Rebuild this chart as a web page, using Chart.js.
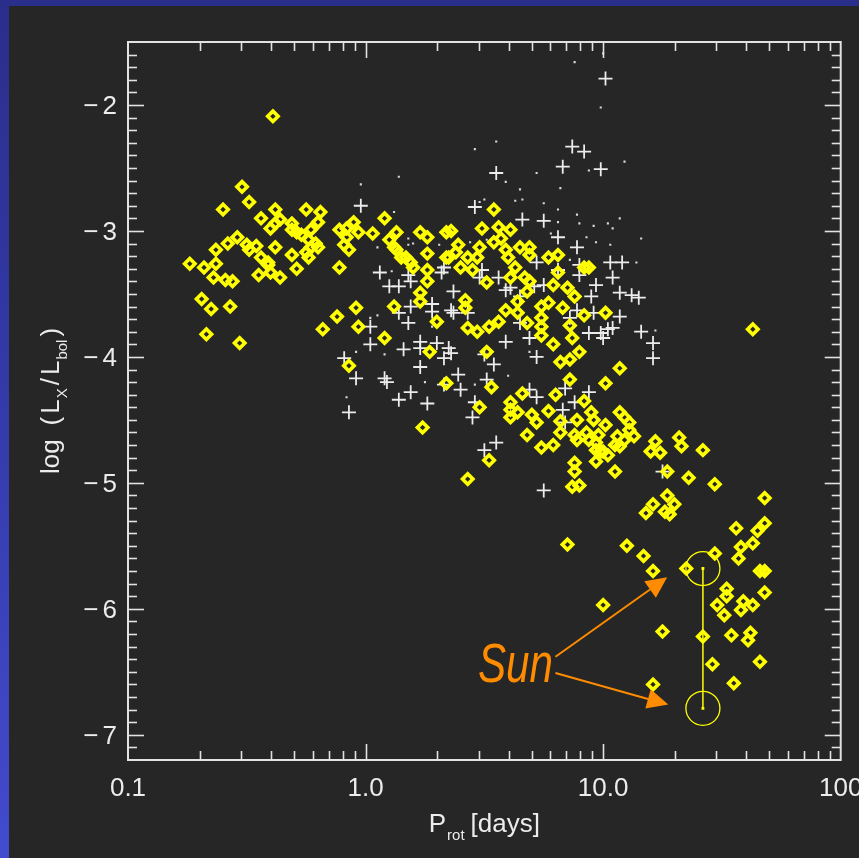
<!DOCTYPE html>
<html><head><meta charset="utf-8">
<script src="https://cdn.jsdelivr.net/npm/chart.js@4.4.0/dist/chart.umd.min.js"></script>
<style>
html,body{margin:0;padding:0;width:859px;height:858px;overflow:hidden;}
body{background:linear-gradient(180deg,#2a2e8b 0%,#333aa8 45%,#434bcf 100%);}
#wrap{position:absolute;left:9px;top:6px;width:850px;height:852px;background:#262626;}
canvas{display:block;}
</style></head>
<body><div id="wrap"><canvas id="c" width="850" height="852"></canvas></div>
<script>
// ---- data (x values are log10 of rotation period in days, y values are log(Lx/Lbol)) ----
const yellowLogP = [
-0.39,-0.52,-0.49,-0.60,-0.38,-0.25,-0.19,-0.44,-0.36,-0.38,-0.40,-0.31,-0.31,-0.29,-0.27,-0.23,-0.20,-0.24,-0.21,-0.23,
-0.20,-0.25,-0.24,-0.31,-0.29,-0.11,-0.08,-0.05,-0.03,-0.08,-0.09,-0.07,0.03,0.08,0.13,0.10,0.12,0.13,0.15,0.17,
0.19,0.20,0.23,0.26,0.26,0.26,0.26,0.23,0.23,0.12,0.30,0.27,0.08,-0.03,-0.04,-0.12,-0.18,-0.07,-0.11,-0.54,
-0.58,-0.63,-0.50,-0.49,-0.46,-0.38,-0.44,-0.41,-0.41,-0.45,-0.40,-0.36,-0.74,-0.68,-0.63,-0.64,-0.59,-0.56,-0.69,-0.65,
-0.57,-0.67,-0.53,0.34,0.34,0.34,0.24,0.43,0.52,0.53,0.51,0.48,0.36,0.39,0.35,0.38,0.40,0.43,0.45,0.47,
0.48,0.49,0.54,0.56,0.61,0.54,0.57,0.59,0.60,0.65,0.69,0.69,0.77,0.81,0.51,0.42,0.42,0.43,0.47,0.52,
0.56,0.59,0.64,0.61,0.63,0.67,0.69,0.68,0.64,0.68,0.74,0.77,0.74,0.74,0.74,0.79,0.81,0.83,0.79,0.86,
0.85,0.88,0.87,0.90,0.82,0.86,0.86,0.92,0.92,0.94,0.92,1.01,1.07,1.01,0.80,0.77,0.82,0.82,0.79,0.74,
0.68,0.61,0.61,0.61,0.64,0.66,0.70,0.72,0.89,0.88,0.89,0.93,0.94,0.97,0.97,1.00,0.97,1.02,0.95,0.96,
0.88,0.88,0.87,0.90,1.05,1.01,1.06,1.05,1.09,1.07,1.09,1.11,1.11,1.13,1.22,1.20,1.24,1.27,1.63,0.98,
1.07,0.99,1.32,1.33,1.42,1.36,1.47,1.27,1.30,1.26,1.28,1.21,1.18,1.68,1.56,1.65,1.68,0.85,1.10,1.17,
1.21,1.35,1.47,1.58,1.63,1.57,1.66,1.68,1.52,1.52,1.68,1.48,1.51,1.59,1.63,1.58,1.00,1.25,1.54,1.62,
1.61,1.46,1.66,1.55,1.21
];
const yellowLogLx = [
-2.09,-2.65,-2.77,-2.83,-2.83,-2.83,-2.85,-2.90,-2.91,-2.94,-2.98,-2.94,-2.99,-3.01,-3.03,-2.99,-2.93,-3.07,-3.10,-3.13,
-3.13,-3.17,-3.21,-3.19,-3.30,-2.99,-2.98,-2.93,-3.01,-3.05,-3.11,-3.15,-3.02,-2.90,-3.01,-3.07,-3.13,-3.15,-3.21,-3.21,
-3.25,-3.29,-3.01,-3.05,-3.18,-3.31,-3.40,-3.49,-3.56,-3.60,-3.72,-3.96,-3.85,-3.76,-3.61,-3.68,-3.78,-4.07,-3.29,-3.05,
-3.10,-3.15,-3.11,-3.15,-3.12,-3.13,-3.21,-3.25,-3.27,-3.35,-3.33,-3.37,-3.26,-3.29,-3.26,-3.37,-3.39,-3.40,-3.54,-3.62,
-3.60,-3.82,-3.89,-3.01,-3.21,-4.21,-4.56,-4.97,-4.82,-4.24,-3.96,-4.40,-3.00,-3.11,-3.21,-3.17,-3.29,-3.21,-3.31,-3.21,
-3.13,-2.98,-2.83,-2.97,-2.99,-3.09,-3.06,-3.15,-3.21,-3.13,-3.13,-3.19,-3.21,-3.19,-3.41,-3.55,-3.61,-3.77,-3.80,-3.76,
-3.72,-3.63,-3.65,-3.37,-3.29,-3.37,-3.40,-3.48,-3.56,-3.73,-3.60,-3.57,-3.69,-3.76,-3.83,-3.43,-3.33,-3.61,-3.90,-3.75,
-3.45,-3.52,-3.85,-3.96,-4.04,-4.02,-4.18,-4.35,-3.29,-3.29,-3.67,-3.65,-4.09,-4.21,-4.30,-4.43,-4.51,-4.60,-4.70,-4.72,
-4.62,-4.36,-4.42,-4.48,-4.44,-4.29,-4.46,-4.52,-4.50,-4.62,-4.66,-4.60,-4.66,-4.68,-4.74,-4.75,-4.83,-4.78,-4.44,-4.50,
-4.84,-4.91,-5.03,-5.02,-4.91,-4.54,-4.63,-4.70,-4.66,-4.44,-4.48,-4.52,-4.58,-4.63,-4.67,-4.75,-4.76,-4.91,-3.78,-4.62,
-4.71,-4.75,-4.64,-4.71,-4.74,-4.96,-5.01,-5.10,-5.17,-5.23,-5.25,-5.17,-5.24,-5.12,-5.36,-5.38,-5.32,-5.49,-5.50,-5.58,
-5.70,-5.68,-5.56,-5.51,-5.48,-5.60,-5.70,-5.70,-5.84,-5.90,-5.87,-5.97,-6.05,-5.94,-5.97,-6.01,-5.97,-6.18,-6.21,-6.19,
-6.25,-6.44,-6.42,-6.59,-6.60
];
const crossLogP = [
1.01,0.87,0.92,0.83,0.99,0.55,0.46,0.66,0.75,0.81,0.89,1.03,1.08,1.04,0.97,0.95,1.07,1.12,1.15,0.90,
0.89,0.86,0.96,0.94,0.99,1.00,1.04,1.07,1.16,1.21,1.21,0.81,0.72,0.75,0.71,0.65,0.61,0.59,0.56,0.48,
0.49,0.33,0.32,0.37,0.28,0.28,0.36,0.37,0.43,0.19,0.14,0.18,0.10,0.14,0.19,0.18,0.06,0.59,0.69,0.65,
0.23,0.23,0.30,0.35,0.36,0.16,0.23,0.33,0.54,0.50,0.39,0.40,0.33,0.51,0.08,0.09,0.19,0.14,0.26,0.46,
0.45,0.55,0.50,0.72,0.69,0.72,0.84,0.94,0.83,0.88,0.84,0.75,1.25,1.02,-0.02,0.02,0.02,-0.09,-0.04,-0.07,
0.90
];
const crossLogLx = [
-1.79,-2.33,-2.37,-2.49,-2.51,-2.54,-2.81,-2.91,-2.92,-3.05,-3.13,-3.25,-3.25,-3.37,-3.43,-3.52,-3.49,-3.51,-3.53,-3.35,
-3.63,-3.69,-3.65,-3.81,-3.81,-3.85,-3.77,-3.68,-3.80,-3.89,-4.01,-3.31,-3.25,-3.43,-3.44,-3.52,-3.45,-3.47,-3.37,-3.37,
-3.31,-3.29,-3.33,-3.48,-3.58,-3.64,-3.63,-3.65,-3.65,-3.60,-3.65,-3.73,-3.44,-3.44,-3.40,-3.35,-3.33,-3.88,-3.85,-3.73,
-3.88,-3.93,-3.89,-3.93,-3.97,-3.94,-4.08,-4.01,-4.06,-3.98,-4.14,-4.26,-4.22,-4.18,-4.17,-4.20,-4.28,-4.34,-4.37,-4.36,
-4.48,-4.68,-4.74,-4.00,-4.26,-4.32,-4.25,-4.28,-4.42,-4.36,-4.52,-5.06,-4.91,-3.78,-2.80,-3.76,-3.90,-4.01,-4.17,-4.44,
-3.27
];
const dotLogP = [
1.00,0.88,0.99,1.09,0.94,0.82,0.89,0.90,0.96,1.02,1.04,1.07,0.93,0.97,1.03,1.16,1.14,0.55,0.46,0.14,
0.72,0.59,0.65,-0.02,0.12,0.05,0.18,0.20,0.11,0.05,0.02,0.08,-0.04,-0.08,0.25,0.33,0.31,0.63,0.66,0.50,
0.48,0.75,0.81,0.18,0.44,0.51,0.78,0.81,0.86,1.22,0.46,0.60,0.69,0.28
];
const dotLogLx = [
-1.59,-1.66,-2.02,-2.45,-2.52,-2.66,-2.87,-2.94,-2.96,-2.94,-2.98,-2.90,-3.05,-3.09,-3.11,-3.06,-3.25,-2.29,-2.35,-2.57,
-2.54,-2.61,-2.67,-2.63,-2.85,-3.13,-3.11,-3.10,-3.32,-3.67,-3.69,-3.98,-3.96,-4.32,-4.20,-3.04,-3.11,-2.76,-2.75,-2.75,
-2.77,-2.78,-2.83,-3.06,-3.09,-3.07,-3.02,-2.93,-3.23,-3.79,-4.22,-4.15,-3.96,-3.76
];
// the Sun: upper value, middle value, lower value
const sunLogP = [1.42, 1.42, 1.42];
const sunLogLx = [-5.68, -6.22, -6.79];

const xTickValues = [0.1, 1, 10, 100];
const xTickLabels = ['0.1', '1.0', '10.0', '100'];
const yTickValues = [-7, -6, -5, -4, -3, -2];
const yTickLabels = ['\u22127', '\u22126', '\u22125', '\u22124', '\u22123', '\u22122'];

// annotation anchors (data coordinates: period in days, log Lx/Lbol)
const sunLabel = { text: 'Sun', x: 6.15, y: -6.58 };
const sunArrows = [
  { from: { x: 6.3, y: -6.38 }, to: { x: 18.6, y: -5.75 } },
  { from: { x: 6.3, y: -6.51 }, to: { x: 18.8, y: -6.76 } }
];

// ---- build ----
const toPts = (lp, ly) => lp.map((v, i) => ({ x: Math.pow(10, v), y: ly[i] }));
const sunPts = toPts(sunLogP, sunLogLx);
const YEL = '#ffff00';
const FONT = "'Liberation Sans', Arial, sans-serif";
const AXC = '#e2e2e2';

function drawParts(ctx, parts, x, y, align) {
  let w = 0;
  parts.forEach(p => { ctx.font = p.font; w += ctx.measureText(p.t).width + (p.gap || 0); });
  let cx = align === 'center' ? x - w / 2 : x;
  ctx.textAlign = 'left';
  ctx.textBaseline = 'alphabetic';
  parts.forEach(p => {
    ctx.font = p.font;
    ctx.fillText(p.t, cx, y + (p.dy || 0));
    cx += ctx.measureText(p.t).width + (p.gap || 0);
  });
}

function arrow(ctx, x1, y1, x2, y2) {
  const ang = Math.atan2(y2 - y1, x2 - x1);
  const L = 21, H = 10;
  const bx = x2 - L * Math.cos(ang), by = y2 - L * Math.sin(ang);
  ctx.beginPath(); ctx.moveTo(x1, y1); ctx.lineTo(bx, by); ctx.stroke();
  ctx.beginPath();
  ctx.moveTo(x2, y2);
  ctx.lineTo(bx + H * Math.sin(ang), by - H * Math.cos(ang));
  ctx.lineTo(bx - H * Math.sin(ang), by + H * Math.cos(ang));
  ctx.closePath(); ctx.fill();
}

const axesPlugin = {
  id: 'idlAxes',
  afterDatasetsDraw(chart) {
    const { ctx, chartArea: a, scales: { x, y } } = chart;
    ctx.save();
    ctx.strokeStyle = AXC;
    ctx.lineWidth = 1.6;
    const seg = (x1, y1, x2, y2) => { ctx.beginPath(); ctx.moveTo(x1, y1); ctx.lineTo(x2, y2); ctx.stroke(); };
    // y ticks, every 0.1
    for (let i = -71; i <= -16; i++) {
      const py = Math.round(y.getPixelForValue(i / 10)) + 0.5;
      const len = i % 10 === 0 ? 16 : 9;
      seg(a.left, py, a.left + len, py);
      seg(a.right, py, a.right - len, py);
    }
    // x ticks (log)
    for (let d = 0.1; d < 99; d *= 10) {
      for (let k = 1; k <= 9; k++) {
        const v = d * k;
        if (v <= 0.1000001) continue;
        const px = Math.round(x.getPixelForValue(v)) + 0.5;
        const len = k === 1 ? 16 : 9;
        seg(px, a.bottom, px, a.bottom - len);
        seg(px, a.top, px, a.top + len);
      }
    }
    ctx.lineWidth = 2;
    ctx.strokeRect(a.left, a.top, a.right - a.left, a.bottom - a.top);

    // Sun annotation
    ctx.strokeStyle = '#ff8c00';
    ctx.fillStyle = '#ff8c00';
    ctx.lineWidth = 2;
    sunArrows.forEach(ar => {
      arrow(ctx, x.getPixelForValue(ar.from.x), y.getPixelForValue(ar.from.y),
                 x.getPixelForValue(ar.to.x), y.getPixelForValue(ar.to.y));
    });
    ctx.font = "italic 56px 'Liberation Sans Narrow', 'Liberation Sans', sans-serif";
    const tw = ctx.measureText(sunLabel.text).width;
    const target = 75;
    const tx = x.getPixelForValue(sunLabel.x), ty = y.getPixelForValue(sunLabel.y);
    ctx.save();
    ctx.translate(tx, ty);
    ctx.scale(target / tw, 1);
    ctx.textAlign = 'right'; ctx.textBaseline = 'alphabetic';
    ctx.fillText(sunLabel.text, 0, 0);
    ctx.restore();
    ctx.restore();
  },
  afterDraw(chart) {
    const { ctx, chartArea: a, scales: { x, y } } = chart;
    ctx.save();
    ctx.fillStyle = '#ececec';
    ctx.font = '26px ' + FONT;
    ctx.letterSpacing = '4px';
    ctx.textAlign = 'right'; ctx.textBaseline = 'middle';
    yTickValues.forEach((v, i) => ctx.fillText(yTickLabels[i], a.left - 7, y.getPixelForValue(v) + 2));
    ctx.letterSpacing = '0px';
    ctx.textAlign = 'center';
    xTickValues.forEach((v, i) => ctx.fillText(xTickLabels[i], x.getPixelForValue(v), a.bottom + 29));
    // x title
    const big = '26px ' + FONT, small = '15px ' + FONT;
    drawParts(ctx, [
      { t: 'P', font: big, gap: 1 },
      { t: 'rot', font: small, dy: 8, gap: 6 },
      { t: '[days]', font: big }
    ], (a.left + a.right) / 2, a.bottom + 72, 'center');
    // y title (rotated)
    ctx.save();
    ctx.translate(50, (a.top + a.bottom) / 2);
    ctx.rotate(-Math.PI / 2);
    drawParts(ctx, [
      { t: 'log', font: big, gap: 14 },
      { t: '(', font: big, gap: 3 },
      { t: 'L', font: big, gap: 1 },
      { t: 'X', font: small, dy: 8, gap: 3 },
      { t: '/', font: big, gap: 3 },
      { t: 'L', font: big, gap: 1 },
      { t: 'bol', font: small, dy: 8, gap: 3 },
      { t: ')', font: big }
    ], 0, 0, 'center');
    ctx.restore();
    ctx.restore();
  }
};

new Chart(document.getElementById('c'), {
  type: 'scatter',
  data: {
    datasets: [
      {
        label: 'Sun',
        data: sunPts,
        showLine: true,
        borderColor: YEL,
        borderWidth: 1.5,
        pointStyle: ['circle', 'rectRot', 'circle'],
        pointRadius: [17, 5.2, 17],
        pointBorderWidth: [1.3, 3.6, 1.3],
        pointBorderColor: YEL,
        pointBackgroundColor: 'rgba(0,0,0,0)'
      },
      {
        label: 'Sun centre',
        data: [sunPts[0], sunPts[2]],
        pointStyle: 'rect',
        pointRadius: 2,
        borderWidth: 0,
        pointBorderWidth: 0,
        pointBackgroundColor: YEL
      },
      {
        label: 'stars (yellow)',
        data: toPts(yellowLogP, yellowLogLx),
        pointStyle: 'rectRot',
        pointRadius: 5.2,
        pointBorderWidth: 3.6,
        pointBorderColor: YEL,
        pointBackgroundColor: 'rgba(0,0,0,0)'
      },
      {
        label: 'stars (crosses)',
        data: toPts(crossLogP, crossLogLx),
        pointStyle: 'cross',
        pointRadius: 7,
        pointBorderWidth: 1.8,
        pointBorderColor: '#ececec'
      },
      {
        label: 'stars (dots)',
        data: toPts(dotLogP, dotLogLx),
        pointStyle: 'rect',
        pointRadius: 1.5,
        pointBorderWidth: 0,
        pointBackgroundColor: '#d8d8d8'
      }
    ]
  },
  options: {
    responsive: false,
    animation: false,
    events: [],
    layout: { padding: { left: 119, top: 36, right: 14, bottom: 98 } },
    scales: {
      x: { type: 'logarithmic', min: 0.1, max: 100, display: false },
      y: { type: 'linear', min: -7.2, max: -1.5, display: false }
    },
    plugins: { legend: { display: false }, tooltip: { enabled: false } }
  },
  plugins: [axesPlugin]
});
</script>
</body></html>
